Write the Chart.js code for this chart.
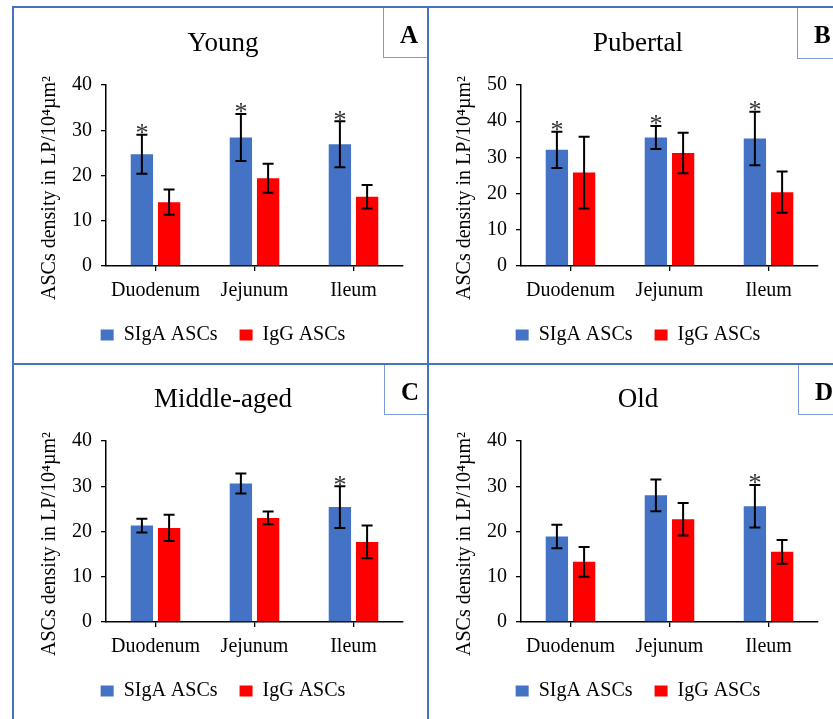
<!DOCTYPE html>
<html lang="en">
<head>
<meta charset="UTF-8">
<title>ASCs density in LP</title>
<style>
  html, body { margin: 0; padding: 0; background: #fff; }
  body { width: 833px; height: 719px; position: relative; overflow: hidden; font-family: "Liberation Serif", serif; }
  .line { position: absolute; background: #4472C4; }
  .panel { position: absolute; width: 412px; height: 354px; }
  .tag {
    position: absolute; box-sizing: border-box;
    border-left: 1px solid #7B9CDB; border-bottom: 1px solid #7B9CDB;
    font-weight: bold; font-size: 25px; line-height: 54px; padding-left: 16px; color: #000;
  }
</style>
<script src="https://cdn.jsdelivr.net/npm/chart.js"></script>
</head>
<body>
  <!-- frame lines -->
  <div class="line" style="left:12px; top:6px; width:2px; height:713px;"></div>
  <div class="line" style="left:427px; top:6px; width:2px; height:713px;"></div>
  <div class="line" style="left:12px; top:6px; width:821px; height:2px;"></div>
  <div class="line" style="left:12px; top:363px; width:821px; height:2px;"></div>

  <div class="panel" style="left:15px; top:9px;"><canvas id="chartA" width="412" height="354"></canvas></div>
  <div class="panel" style="left:430px; top:9px;"><canvas id="chartB" width="412" height="354"></canvas></div>
  <div class="panel" style="left:15px; top:365px;"><canvas id="chartC" width="412" height="354"></canvas></div>
  <div class="panel" style="left:430px; top:365px;"><canvas id="chartD" width="412" height="354"></canvas></div>

  <div class="tag" style="left:383px; top:8px; width:44px; height:50px;">A</div>
  <div class="tag" style="left:797px; top:8px; width:40px; height:51px;">B</div>
  <div class="tag" style="left:384px; top:365px; width:43px; height:50px;">C</div>
  <div class="tag" style="left:798px; top:365px; width:40px; height:50px;">D</div>

<script>
    const categories = ['Duodenum', 'Jejunum', 'Ileum'];
    const seriesNames = ['SIgA ASCs', 'IgG ASCs'];
    const panelTitles = ['Young', 'Pubertal', 'Middle-aged', 'Old'];
    const yMax = [40, 50, 40, 40];
    // trailing spaces push the rotated title down a little, like the original
    const yTitle = 'ASCs density in LP/10⁴µm²     ';

    // values (mean and +/- error)
    const youngSIgA = [24.7, 28.4, 26.9];
    const youngSIgAErr = [4.3, 5.2, 5.1];
    const youngIgG = [14.1, 19.4, 15.3];
    const youngIgGErr = [2.8, 3.2, 2.6];
    const youngStar = [true, true, true];

    const pubertalSIgA = [32.1, 35.5, 35.2];
    const pubertalSIgAErr = [5.0, 3.2, 7.4];
    const pubertalIgG = [25.8, 31.2, 20.4];
    const pubertalIgGErr = [9.9, 5.6, 5.7];
    const pubertalStar = [true, true, true];

    const middleSIgA = [21.3, 30.6, 25.4];
    const middleSIgAErr = [1.5, 2.2, 4.6];
    const middleIgG = [20.8, 23.0, 17.7];
    const middleIgGErr = [2.9, 1.4, 3.6];
    const middleStar = [false, false, true];

    const oldSIgA = [18.9, 28.0, 25.6];
    const oldSIgAErr = [2.6, 3.5, 4.7];
    const oldIgG = [13.3, 22.7, 15.5];
    const oldIgGErr = [3.3, 3.6, 2.6];
    const oldStar = [false, false, true];

    const blue = '#4472C4';
    const red = '#FF0000';
    const serif = '"Liberation Serif", "Times New Roman", serif';

    // error bars + significance stars
    const errorBars = {
        id: 'errorBars',
        afterDatasetsDraw(chart) {
            const ctx = chart.ctx;
            const y = chart.scales.y;
            ctx.save();
            chart.data.datasets.forEach((ds, i) => {
                const meta = chart.getDatasetMeta(i);
                meta.data.forEach((bar, j) => {
                    const v = ds.data[j], e = ds.errors[j];
                    const top = y.getPixelForValue(v + e);
                    const bot = y.getPixelForValue(v - e);
                    ctx.strokeStyle = '#000';
                    ctx.lineWidth = 2;
                    ctx.beginPath();
                    ctx.moveTo(bar.x, top); ctx.lineTo(bar.x, bot);
                    ctx.moveTo(bar.x - 5.5, top); ctx.lineTo(bar.x + 5.5, top);
                    ctx.moveTo(bar.x - 5.5, bot); ctx.lineTo(bar.x + 5.5, bot);
                    ctx.stroke();
                    if (ds.stars && ds.stars[j]) {
                        ctx.fillStyle = '#333';
                        ctx.font = '26px ' + serif;
                        ctx.textAlign = 'center';
                        ctx.textBaseline = 'alphabetic';
                        ctx.fillText('*', bar.x, top + 6.5);
                    }
                });
            });
            ctx.restore();
        }
    };

    function makeChart(id, title, max, siga, sigaErr, igg, iggErr, stars) {
        return new Chart(document.getElementById(id), {
            type: 'bar',
            data: {
                labels: categories,
                datasets: [
                    { label: seriesNames[0], data: siga, errors: sigaErr, stars: stars,
                      backgroundColor: blue, borderWidth: 0 },
                    { label: seriesNames[1], data: igg, errors: iggErr,
                      backgroundColor: red, borderWidth: 0 }
                ]
            },
            options: {
                responsive: false,
                animation: false,
                events: [],
                categoryPercentage: 0.55,
                barPercentage: 0.82,
                layout: { padding: { left: 28, right: 24, top: 0, bottom: 8 } },
                plugins: {
                    title: {
                        display: true, text: title, color: '#000',
                        font: { family: serif, size: 27, weight: 'normal' },
                        padding: { top: 19, bottom: 24.6 }
                    },
                    legend: {
                        position: 'bottom',
                        labels: {
                            color: '#000', font: { family: serif, size: 20 },
                            boxWidth: 13, boxHeight: 11, padding: 22
                        }
                    },
                    tooltip: { enabled: false }
                },
                scales: {
                    x: {
                        afterFit(scale) { scale.height = 37; },
                        grid: { display: true, offset: false, drawOnChartArea: false, color: '#000', lineWidth: 1.3, tickLength: 5 },
                        border: { display: true, color: '#000', width: 1.5 },
                        ticks: { color: '#000', font: { family: serif, size: 20 }, padding: 8 }
                    },
                    y: {
                        min: 0, max: max,
                        afterFit(scale) { scale.width = 63; },
                        grid: { display: true, drawOnChartArea: false, color: '#000', lineWidth: 1.3, tickLength: 5 },
                        border: { display: true, color: '#000', width: 1.5 },
                        ticks: { stepSize: 10, color: '#000', font: { family: serif, size: 20 }, padding: 9 },
                        title: {
                            display: true, text: yTitle, color: '#000',
                            font: { family: serif, size: 20, lineHeight: 0.7 },
                            padding: { top: 0, bottom: 0 }
                        }
                    }
                }
            },
            plugins: [errorBars]
        });
    }

    makeChart('chartA', panelTitles[0], yMax[0], youngSIgA, youngSIgAErr, youngIgG, youngIgGErr, youngStar);
    makeChart('chartB', panelTitles[1], yMax[1], pubertalSIgA, pubertalSIgAErr, pubertalIgG, pubertalIgGErr, pubertalStar);
    makeChart('chartC', panelTitles[2], yMax[2], middleSIgA, middleSIgAErr, middleIgG, middleIgGErr, middleStar);
    makeChart('chartD', panelTitles[3], yMax[3], oldSIgA, oldSIgAErr, oldIgG, oldIgGErr, oldStar);
</script>
</body>
</html>
